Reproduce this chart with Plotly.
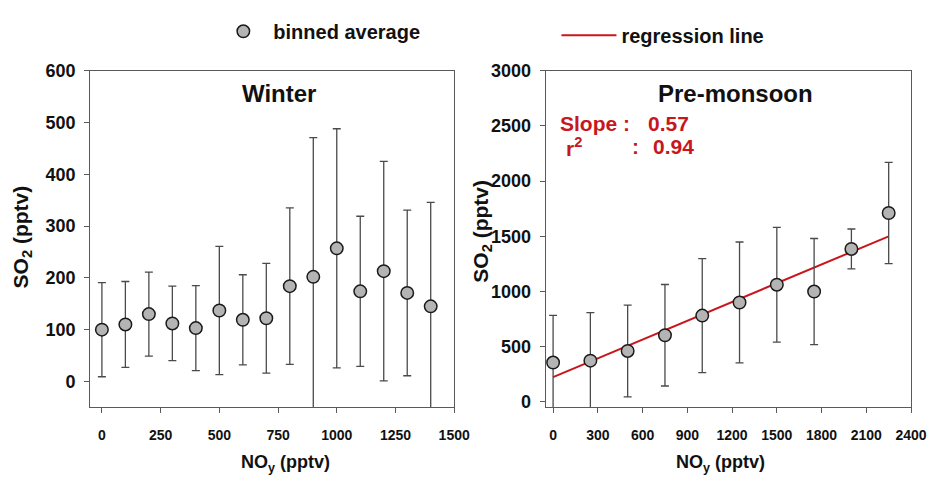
import plotly.graph_objects as go

W, H = 948, 485

# ---------------- data ----------------
winter_nox = [0, 100, 200, 300, 400, 500, 600, 700, 800, 900, 1000, 1100, 1200, 1300, 1400]
winter_so2 = [100, 110, 130, 112, 103, 137, 119, 122, 184, 202, 257, 174, 213, 171, 145]
winter_err = [91, 83, 81, 72, 82, 124, 87, 106, 151, 269, 231, 145, 212, 160, 201]

premon_nox = [0, 250, 500, 750, 1000, 1250, 1500, 1750, 2000, 2250]
premon_so2 = [356, 373, 461, 603, 781, 900, 1061, 999, 1385, 1711]
premon_err = [428, 435, 416, 460, 516, 548, 520, 481, 181, 458]

reg_slope = 0.567
reg_intercept = 224
reg_x = [0, 2250]
reg_y = [reg_intercept + reg_slope * v for v in reg_x]

winter_xticks = [0, 250, 500, 750, 1000, 1250, 1500]
winter_yticks = [0, 100, 200, 300, 400, 500, 600]
premon_xticks = [0, 300, 600, 900, 1200, 1500, 1800, 2100, 2400]
premon_yticks = [0, 500, 1000, 1500, 2000, 2500, 3000]

# ---------------- styles ----------------
FONT = "Liberation Sans, Arial, sans-serif"
GREY_FILL = "#b4b4b4"
EDGE = "#1a1a1a"
ERR = "#4a4a4a"
RED = "#c8161d"
AX = "#5a5a5a"

def px(x):
    return x / W

def py(y):
    return 1 - y / H

fig = go.Figure()

fig.add_trace(go.Scatter(
    x=winter_nox, y=winter_so2, mode="markers",
    name="binned average", legend="legend",
    marker=dict(size=12.5, color=GREY_FILL, line=dict(color=EDGE, width=1.5)),
    error_y=dict(type="data", array=winter_err, visible=True, color=ERR, thickness=1.3, width=4),
    xaxis="x", yaxis="y",
))

fig.add_trace(go.Scatter(
    x=reg_x, y=reg_y, mode="lines", name="regression line", legend="legend2",
    line=dict(color=RED, width=2), xaxis="x2", yaxis="y2",
))

fig.add_trace(go.Scatter(
    x=premon_nox, y=premon_so2, mode="markers", showlegend=False,
    marker=dict(size=12.5, color=GREY_FILL, line=dict(color=EDGE, width=1.5)),
    error_y=dict(type="data", array=premon_err, visible=True, color=ERR, thickness=1.3, width=4),
    xaxis="x2", yaxis="y2",
))

common_axis = dict(
    showline=True, linecolor=AX, linewidth=1, mirror=True,
    ticks="outside", ticklen=5, tickcolor=AX, tickwidth=1,
    showgrid=False, zeroline=False,
)
xtickfont = dict(family=FONT, size=14, color="#111", weight="bold")
ytickfont = dict(family=FONT, size=18, color="#111", weight="bold")

ydom = [py(410), py(62.7)]

fig.update_layout(
    width=W, height=H,
    margin=dict(l=0, r=0, t=0, b=0),
    paper_bgcolor="white", plot_bgcolor="white",
    font=dict(family=FONT, color="#111"),
    xaxis=dict(domain=[px(91.7), px(462)], range=[-50, 1500], tickvals=winter_xticks,
               tickfont=xtickfont, ticklabelstandoff=10, anchor="y", **common_axis),
    yaxis=dict(domain=ydom, range=[-50, 600], tickvals=winter_yticks,
               tickfont=ytickfont, ticklabelstandoff=5, anchor="x", **common_axis),
    xaxis2=dict(domain=[px(555), px(926.7)], range=[-50, 2400], tickvals=premon_xticks,
                tickfont=xtickfont, ticklabelstandoff=10, anchor="y2", **common_axis),
    yaxis2=dict(domain=ydom, range=[-50, 3000], tickvals=premon_yticks,
                tickfont=ytickfont, ticklabelstandoff=5, anchor="x2", **common_axis),
    legend=dict(x=px(217), y=py(22), xanchor="left", yanchor="middle",
                orientation="h", itemwidth=50, bgcolor="rgba(0,0,0,0)",
                font=dict(family=FONT, size=20, color="#111", weight="bold")),
    legend2=dict(x=px(566), y=py(26), xanchor="left", yanchor="middle",
                 orientation="h", itemwidth=55, bgcolor="rgba(0,0,0,0)",
                 font=dict(family=FONT, size=20, color="#111", weight="bold")),
)

ann = []
def add_text(text, x, y, size, color="#111", xanchor="center", yanchor="middle", angle=0):
    ann.append(dict(text=text, x=px(x), y=py(y), xref="paper", yref="paper",
                    xanchor=xanchor, yanchor=yanchor, showarrow=False, textangle=angle,
                    font=dict(family=FONT, size=size, color=color, weight="bold")))

add_text("Winter", 284, 86, 24)
add_text("Pre-monsoon", 747.7, 86, 24)

add_text("Slope :", 568, 117, 21, RED, xanchor="left")
add_text("0.57", 657, 117, 21, RED, xanchor="left")
add_text("r<sup>2</sup>", 574, 141, 21, RED, xanchor="left")
add_text(":", 641, 141, 21, RED, xanchor="left")
add_text("0.94", 662, 141, 21, RED, xanchor="left")

add_text("SO<sub>2</sub> (pptv)", 22, 234, 21, angle=-90)
add_text("SO<sub>2</sub> (pptv)", 490, 228, 21, angle=-90)
add_text("NO<sub>y</sub> (pptv)", 290, 468, 18)
add_text("NO<sub>y</sub> (pptv)", 733, 468, 18)

fig.update_layout(annotations=ann)

fig.write_html("out.html")
